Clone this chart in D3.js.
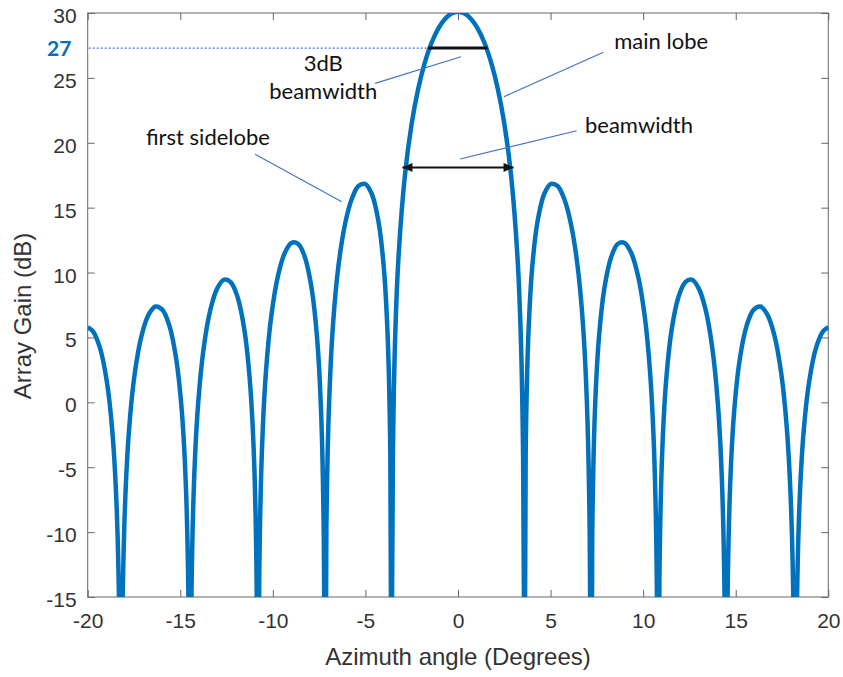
<!DOCTYPE html>
<html lang="en">
<head>
<meta charset="utf-8">
<title>Array gain vs azimuth angle</title>
<script src="https://cdn.jsdelivr.net/npm/d3@7"></script>
<style>
  body { margin: 0; background: #fff; }
  .tick text { font-family: "Liberation Sans", Arial, sans-serif; font-size: 21px; fill: #333; }
  .tick line { stroke: #666; }
  .axis-label { font-family: "Liberation Sans", Arial, sans-serif; font-size: 24px; fill: #333; }
  .note { font-family: Lato, "Open Sans", sans-serif; font-size: 22px; fill: #111; }
</style>
</head>
<body>
<script>
var azimuth = [
  -20.000, -19.725, -19.345, -18.966, -18.663, -18.436, -18.285,
  -18.210, -18.135, -17.984, -17.758, -17.458, -17.083, -16.708, -16.335, -15.962, -15.590, -15.218, -14.922, -14.700, -14.552,
  -14.478, -14.404, -14.256, -14.034, -13.739, -13.371, -13.003, -12.636, -12.269, -11.903, -11.537, -11.245, -11.026, -10.880,
  -10.807, -10.734, -10.588, -10.370, -10.079, -9.715, -9.352, -8.989, -8.627, -8.265, -7.903, -7.614, -7.397, -7.253,
  -7.181, -7.109, -6.964, -6.748, -6.460, -6.099, -5.739, -5.379, -5.020, -4.660, -4.301, -4.014, -3.799, -3.655,
  -3.583, -3.565, -3.512, -3.404, -3.225, -2.866, -2.508, -2.149, -1.791, -1.433, -1.074, -0.716, -0.358,
  0,
  0.358, 0.716, 1.074, 1.433, 1.791, 2.149, 2.508, 2.866, 3.225, 3.404, 3.512, 3.565, 3.583,
  3.655, 3.799, 4.014, 4.301, 4.660, 5.020, 5.379, 5.739, 6.099, 6.460, 6.748, 6.964, 7.109, 7.181,
  7.253, 7.397, 7.614, 7.903, 8.265, 8.627, 8.989, 9.352, 9.715, 10.079, 10.370, 10.588, 10.734, 10.807,
  10.880, 11.026, 11.245, 11.537, 11.903, 12.269, 12.636, 13.003, 13.371, 13.739, 14.034, 14.256, 14.404, 14.478,
  14.552, 14.700, 14.922, 15.218, 15.590, 15.962, 16.335, 16.708, 17.083, 17.458, 17.758, 17.984, 18.135, 18.210,
  18.285, 18.436, 18.663, 18.966, 19.345, 19.725, 20.000
];
var gainDb = [
  5.79, 5.48, 4.23, 1.60, -2.34, -8.11, -17.54,
  -45, -17.48, -7.92, -1.95, 2.24, 5.19, 6.76, 7.38, 7.12, 5.91, 3.32, -0.58, -6.33, -15.74,
  -45, -15.66, -6.08, -0.09, 4.15, 7.15, 8.78, 9.45, 9.25, 8.10, 5.58, 1.73, -3.97, -13.35,
  -45, -13.24, -3.64, 2.41, 6.71, 9.80, 11.52, 12.29, 12.20, 11.16, 8.76, 5.02, -0.61, -9.93,
  -45, -9.76, -0.09, 6.05, 10.48, 13.75, 15.67, 16.67, 16.83, 16.07, 13.98, 10.51, 5.12, -4.04,
  -45, -15.86, -3.69, 4.50, 10.89, 17.49, 21.42, 24.17, 26.18, 27.69, 28.78, 29.52, 29.96,
  30.10,
  29.96, 29.52, 28.78, 27.69, 26.18, 24.17, 21.42, 17.49, 10.89, 4.50, -3.69, -15.86, -45,
  -4.04, 5.12, 10.51, 13.98, 16.07, 16.83, 16.67, 15.67, 13.75, 10.48, 6.05, -0.09, -9.76, -45,
  -9.93, -0.61, 5.02, 8.76, 11.16, 12.20, 12.29, 11.52, 9.80, 6.71, 2.41, -3.64, -13.24, -45,
  -13.35, -3.97, 1.73, 5.58, 8.10, 9.25, 9.45, 8.78, 7.15, 4.15, -0.09, -6.08, -15.66, -45,
  -15.74, -6.33, -0.58, 3.32, 5.91, 7.12, 7.38, 6.76, 5.19, 2.24, -1.95, -7.92, -17.48, -45,
  -17.54, -8.11, -2.34, 1.60, 4.23, 5.48, 5.79
];

var xTicks = [-20, -15, -10, -5, 0, 5, 10, 15, 20];
var yTicks = [-15, -10, -5, 0, 5, 10, 15, 20, 25, 30];

// 3 dB level and the two width markers (deg, dB)
var halfPowerDb = 27.3;
var halfPowerLabel = "27";
var halfPowerSpan = [-1.6, 1.6];
var nullSpanDb = 18.1;
var nullSpan = [-3.0, 3.0];

// annotation texts and their leader lines, in data units
var noteTexts = ["3dB", "beamwidth", "main lobe", "beamwidth", "first sidelobe"];
var noteAt = [[-7.28, 25.55], [-7.28, 23.35], [8.44, 27.2], [6.86, 20.73], [-16.85, 19.83]];
var noteAnchor = ["middle", "middle", "start", "start", "start"];
var leaders = [
  [[-4.48, 24.58], [0.16, 26.63]],
  [[7.85, 26.97], [2.48, 23.55]],
  [[6.41, 20.93], [0.11, 18.75]],
  [[-10.96, 19.11], [-6.28, 15.46]]
];

var w = 843, h = 677;
var plotL = 87.7, plotR = 828.3, plotT = 13, plotB = 597;

var x = d3.scaleLinear().domain([-20, 20]).range([plotL, plotR]);
var y = d3.scaleLinear().domain([-15, 30]).range([plotB, plotT]);
var plain = function(d) { return String(d); };

var svg = d3.select("body").append("svg")
    .attr("width", w)
    .attr("height", h);

var defs = svg.append("defs");
defs.append("clipPath").attr("id", "plot")
  .append("rect")
    .attr("x", plotL).attr("y", plotT)
    .attr("width", plotR - plotL).attr("height", plotB - plotT);
defs.append("marker")
    .attr("id", "head")
    .attr("viewBox", "0 0 10 9")
    .attr("refX", 10).attr("refY", 4.5)
    .attr("markerWidth", 11).attr("markerHeight", 9)
    .attr("markerUnits", "userSpaceOnUse")
    .attr("orient", "auto-start-reverse")
  .append("path")
    .attr("d", "M0,0L10,4.5L0,9Z")
    .attr("fill", "#111");

// axes, ticks pointing inward on all four sides
svg.append("g")
    .attr("transform", "translate(0," + plotB + ")")
    .call(d3.axisBottom(x).tickValues(xTicks).tickFormat(plain).tickSize(-7).tickSizeOuter(0).tickPadding(16))
    .call(function(g) { g.select(".domain").remove(); });
svg.append("g")
    .attr("transform", "translate(" + plotL + ",0)")
    .call(d3.axisLeft(y).tickValues(yTicks).tickFormat(plain).tickSize(-7).tickSizeOuter(0).tickPadding(11))
    .call(function(g) { g.select(".domain").remove(); })
    .selectAll("text").attr("dy", "0.45em");
svg.append("g")
    .attr("transform", "translate(0," + plotT + ")")
    .call(d3.axisTop(x).tickValues(xTicks).tickSize(-7).tickFormat(""))
    .call(function(g) { g.select(".domain").remove(); });
svg.append("g")
    .attr("transform", "translate(" + plotR + ",0)")
    .call(d3.axisRight(y).tickValues(yTicks).tickSize(-7).tickFormat(""))
    .call(function(g) { g.select(".domain").remove(); });

svg.append("rect")
    .attr("x", plotL).attr("y", plotT)
    .attr("width", plotR - plotL).attr("height", plotB - plotT)
    .attr("fill", "none")
    .attr("stroke", "#666")
    .attr("stroke-width", 1);

svg.append("text")
    .attr("class", "axis-label")
    .attr("x", (plotL + plotR) / 2)
    .attr("y", 665)
    .attr("text-anchor", "middle")
    .text("Azimuth angle (Degrees)");
svg.append("text")
    .attr("class", "axis-label")
    .attr("transform", "translate(31,316) rotate(-90)")
    .attr("text-anchor", "middle")
    .text("Array Gain (dB)");

// gain pattern
var line = d3.line()
    .x(function(d) { return x(d[0]); })
    .y(function(d) { return y(d[1]); })
    .curve(d3.curveCatmullRom.alpha(0.5));

svg.append("path")
    .datum(d3.zip(azimuth, gainDb))
    .attr("clip-path", "url(#plot)")
    .attr("d", line)
    .attr("fill", "none")
    .attr("stroke", "#0072BD")
    .attr("stroke-width", 4.5)
    .attr("stroke-linejoin", "round");

// 3 dB level
svg.append("line")
    .attr("x1", x(-20) + 1).attr("x2", x(halfPowerSpan[0]))
    .attr("y1", y(halfPowerDb)).attr("y2", y(halfPowerDb))
    .attr("stroke", "#4472C4")
    .attr("stroke-width", 1.2)
    .attr("stroke-dasharray", "2,2");
svg.append("text")
    .attr("x", 47).attr("y", y(halfPowerDb))
    .attr("dy", "0.36em")
    .attr("font-family", "Lato, sans-serif")
    .attr("font-weight", "bold")
    .attr("font-size", 21)
    .attr("fill", "#0070C0")
    .text(halfPowerLabel);
svg.append("line")
    .attr("x1", x(halfPowerSpan[0])).attr("x2", x(halfPowerSpan[1]))
    .attr("y1", y(halfPowerDb)).attr("y2", y(halfPowerDb))
    .attr("stroke", "#111")
    .attr("stroke-width", 3);

// null-to-null arrow
svg.append("line")
    .attr("x1", x(nullSpan[0])).attr("x2", x(nullSpan[1]))
    .attr("y1", y(nullSpanDb)).attr("y2", y(nullSpanDb))
    .attr("stroke", "#111")
    .attr("stroke-width", 2)
    .attr("marker-start", "url(#head)")
    .attr("marker-end", "url(#head)");

// annotations
svg.selectAll("line.leader")
    .data(leaders)
    .enter()
    .append("line")
    .attr("class", "leader")
    .attr("x1", function(d) { return x(d[0][0]); })
    .attr("y1", function(d) { return y(d[0][1]); })
    .attr("x2", function(d) { return x(d[1][0]); })
    .attr("y2", function(d) { return y(d[1][1]); })
    .attr("stroke", "#4472C4")
    .attr("stroke-width", 1.2);

svg.selectAll("text.note")
    .data(noteTexts)
    .enter()
    .append("text")
    .attr("class", "note")
    .attr("x", function(d, i) { return x(noteAt[i][0]); })
    .attr("y", function(d, i) { return y(noteAt[i][1]); })
    .attr("text-anchor", function(d, i) { return noteAnchor[i]; })
    .text(function(d) { return d; });
</script>
</body>
</html>
